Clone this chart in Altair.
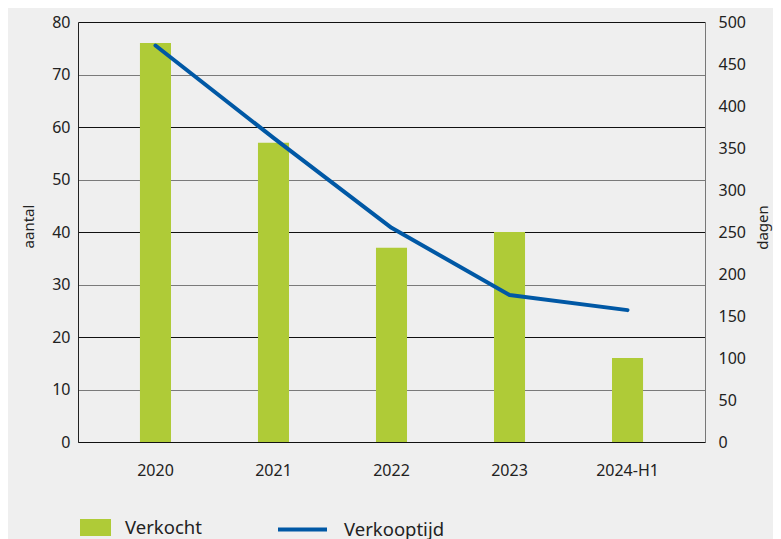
import altair as alt
import pandas as pd

years = ["2020", "2021", "2022", "2023", "2024-H1"]
verkocht = [76, 57, 37, 40, 16]
verkooptijd = [472, 362, 255, 175, 157]
left_ticks = [0, 10, 20, 30, 40, 50, 60, 70, 80]
right_ticks = [0, 50, 100, 150, 200, 250, 300, 350, 400, 450, 500]

df = pd.DataFrame({
    "jaar": years,
    "verkocht": verkocht,
    "verkooptijd": verkooptijd,
    "s1": ["Verkocht"] * len(years),
    "s2": ["Verkooptijd"] * len(years),
})

FONT = "Noto Sans"
BAR = "#afcb37"
LINE = "#0058a5"
TXT = "#222222"

xenc = alt.X(
    "jaar:N", sort=None,
    scale=alt.Scale(paddingInner=0.737, paddingOuter=0.525),
    axis=alt.Axis(title=None, labelAngle=0, ticks=False, labelPadding=20,
                  labelFontSize=16, labelColor=TXT, domainColor="#111",
                  labelFont=FONT),
)

bars = alt.Chart(df).mark_bar().encode(
    x=xenc,
    y=alt.Y("verkocht:Q", scale=alt.Scale(domain=[0, 80]),
            axis=alt.Axis(title="aantal", values=left_ticks, ticks=False,
                          grid=True,
                          gridColor=alt.condition("datum.value % 20 === 0",
                                                  alt.value("#111111"),
                                                  alt.value("#7a7a7a")),
                          gridWidth=1,
                          domainColor="#222", labelPadding=8,
                          labelFontSize=16, labelColor=TXT, labelFont=FONT,
                          titleFont=FONT, titleFontSize=15, titleFontWeight="normal",
                          titleColor=TXT, titleAngle=270, titleX=-50, titleY=204,
                          titleAlign="center", titleBaseline="middle")),
    fill=alt.Fill("s1:N", scale=alt.Scale(range=[BAR]),
                  legend=alt.Legend(title=None, orient="none", legendX=2, legendY=490,
                                    symbolType="M-1,-0.55H1V0.55H-1Z", symbolSize=961,
                                    symbolStrokeWidth=0, labelOffset=14,
                                    labelFontSize=18.5, labelFont=FONT, labelColor=TXT,
                                    padding=0)),
)

line = alt.Chart(df).mark_line(strokeWidth=4, strokeCap="round", strokeJoin="round").encode(
    x=xenc,
    y=alt.Y("verkooptijd:Q", scale=alt.Scale(domain=[0, 500]),
            axis=alt.Axis(orient="right", title="dagen", values=right_ticks, ticks=False,
                          grid=False, domainColor="#777", labelPadding=13,
                          labelFontSize=16, labelColor=TXT, labelFont=FONT,
                          titleFont=FONT, titleFontSize=15, titleFontWeight="normal",
                          titleColor=TXT, titleAngle=270, titleX=57, titleY=205,
                          titleAlign="center", titleBaseline="middle")),
    stroke=alt.Stroke("s2:N", scale=alt.Scale(range=[LINE]),
                      legend=alt.Legend(title=None, orient="none", legendX=198, legendY=481,
                                        symbolType="stroke", symbolSize=2401,
                                        symbolStrokeWidth=4, labelOffset=15,
                                        labelFontSize=18.5, labelFont=FONT, labelColor=TXT,
                                        padding=0)),
)

chart = alt.layer(bars, line).resolve_scale(
    y="independent", fill="independent", stroke="independent"
).properties(
    width=627, height=420,
    background="#efefef",
    autosize=alt.AutoSizeParams(type="none"),
    padding={"left": 70, "top": 14, "right": 68, "bottom": 97},
).configure_view(stroke=None)

chart.save("out.html", embed_options={"renderer": "svg", "actions": False})
